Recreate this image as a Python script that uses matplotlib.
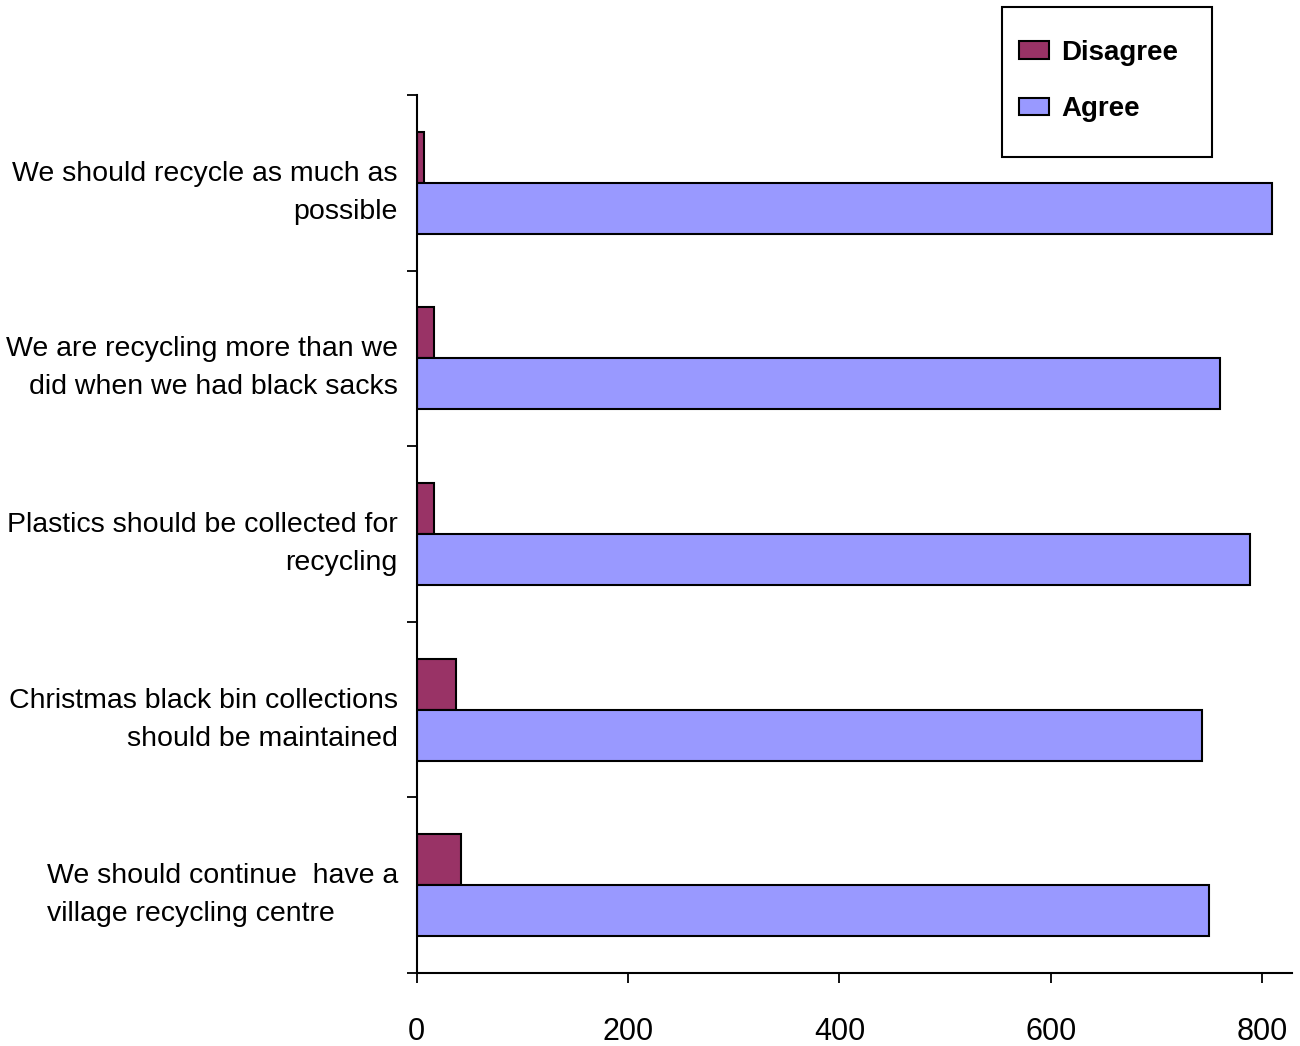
import numpy as np
import matplotlib

matplotlib.use("Agg")
import matplotlib.pyplot as plt
import matplotlib.transforms as mtransforms
from matplotlib.patches import Rectangle

plt.rcParams["font.family"] = ["Liberation Sans", "DejaVu Sans"]

# Survey statements, top to bottom
statements = [
    "We should recycle as much as\npossible",
    "We are recycling more than we\ndid when we had black sacks",
    "Plastics should be collected for\nrecycling",
    "Christmas black bin collections\nshould be maintained",
    "We should continue  have a\nvillage recycling centre",
]
disagree = [7, 17, 17, 37, 42]
agree = [809, 760, 788, 743, 750]
x_ticks = [0, 200, 400, 600, 800]

DISAGREE_COLOR = "#993366"
AGREE_COLOR = "#9999FF"

W, H = 1300, 1046
fig = plt.figure(figsize=(W / 100, H / 100), dpi=100)
ax = fig.add_axes([0.3204, 0.0698, 0.9938 - 0.3204, 0.9092 - 0.0698])

y = np.arange(len(statements))
h = 0.29
ax.barh(y - h / 2, disagree, height=h, color=DISAGREE_COLOR,
        edgecolor="black", linewidth=1.5, label="Disagree")
ax.barh(y + h / 2, agree, height=h, color=AGREE_COLOR,
        edgecolor="black", linewidth=1.5, label="Agree")

ax.set_ylim(len(statements) - 0.5, -0.5)
ax.set_xlim(0, 828)

# category separators as major ticks, statements as minor tick labels
ax.set_yticks(np.arange(len(statements) + 1) - 0.5, minor=False)
ax.set_yticklabels([])
ax.set_yticks(y, minor=True)
ax.set_yticklabels(statements, minor=True, fontsize=20.5, linespacing=1.6)
ax.tick_params(axis="y", which="major", direction="out", length=7, width=1.3)
ax.tick_params(axis="y", which="minor", length=0, pad=13.5)
shift = mtransforms.ScaledTranslation(0, -1 / 100, fig.dpi_scale_trans)
for lbl in ax.get_yticklabels(minor=True):
    lbl.set_multialignment("right")
    lbl.set_transform(lbl.get_transform() + shift)
ax.get_yticklabels(minor=True)[-1].set_multialignment("left")

ax.set_xticks(x_ticks)
ax.set_xticklabels([str(v) for v in x_ticks], fontsize=22)
ax.tick_params(axis="x", direction="out", length=7, width=1.3, pad=25)

for side in ["top", "right"]:
    ax.spines[side].set_visible(False)
for side in ["left", "bottom"]:
    ax.spines[side].set_linewidth(1.5)

# legend without frame, box drawn separately
leg = fig.legend(loc="center left", bbox_to_anchor=(1019 / W, 1 - 81 / H),
                 frameon=False, prop={"weight": "bold", "size": 20},
                 handlelength=1.08, handleheight=0.61, handletextpad=0.43,
                 labelspacing=1.1, borderpad=0, borderaxespad=0)
for patch in leg.get_patches():
    patch.set_linewidth(1.5)
fig.patches.append(Rectangle((1002 / W, 1 - 157 / H), 210 / W, 150 / H,
                             transform=fig.transFigure, fill=False,
                             edgecolor="black", linewidth=1.5))

fig.savefig("out.png", dpi=100)
